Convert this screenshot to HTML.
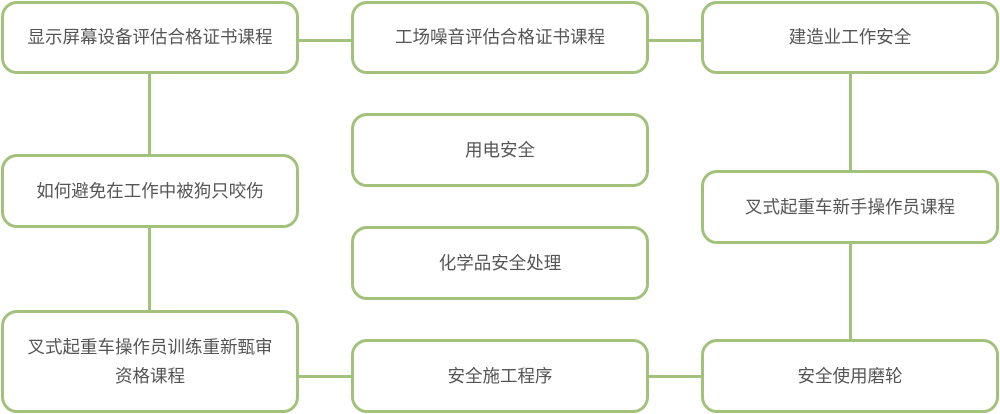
<!DOCTYPE html>
<html><head><meta charset="utf-8"><style>
body{margin:0;width:1000px;height:414px;background:#fff;position:relative;overflow:hidden;font-family:"Liberation Sans","Noto Sans CJK SC",sans-serif;}
.b{position:absolute;box-sizing:border-box;border:3px solid #a2c27c;border-radius:16px;background:#fff;display:flex;align-items:center;justify-content:center;text-align:center;color:#555;font-size:17.5px;line-height:29px;}
.h{position:absolute;height:3px;background:#a2c27c;}
.v{position:absolute;width:3px;background:#a2c27c;}
</style></head><body>
<div class="h" style="left:296px;top:39px;width:58px"></div>
<div class="h" style="left:646px;top:39px;width:58px"></div>
<div class="h" style="left:296px;top:375px;width:58px"></div>
<div class="h" style="left:646px;top:375px;width:58px"></div>
<div class="v" style="left:148px;top:72px;height:85px"></div>
<div class="v" style="left:148px;top:226px;height:87px"></div>
<div class="v" style="left:849px;top:72px;height:101px"></div>
<div class="v" style="left:849px;top:242px;height:100px"></div>
<div class="b" style="left:1px;top:1px;width:298px;height:73px">显示屏幕设备评估合格证书课程</div>
<div class="b" style="left:351px;top:1px;width:298px;height:73px">工场噪音评估合格证书课程</div>
<div class="b" style="left:701px;top:1px;width:298px;height:73px">建造业工作安全</div>
<div class="b" style="left:1px;top:154px;width:298px;height:74px">如何避免在工作中被狗只咬伤</div>
<div class="b" style="left:351px;top:113px;width:298px;height:74px">用电安全</div>
<div class="b" style="left:351px;top:226px;width:298px;height:74px">化学品安全处理</div>
<div class="b" style="left:701px;top:170px;width:298px;height:74px">叉式起重车新手操作员课程</div>
<div class="b" style="left:1px;top:310px;width:298px;height:103px;padding:0 20px">叉式起重车操作员训练重新甄审<br>资格课程</div>
<div class="b" style="left:351px;top:339px;width:298px;height:74px">安全施工程序</div>
<div class="b" style="left:701px;top:339px;width:298px;height:74px">安全使用磨轮</div>
</body></html>
